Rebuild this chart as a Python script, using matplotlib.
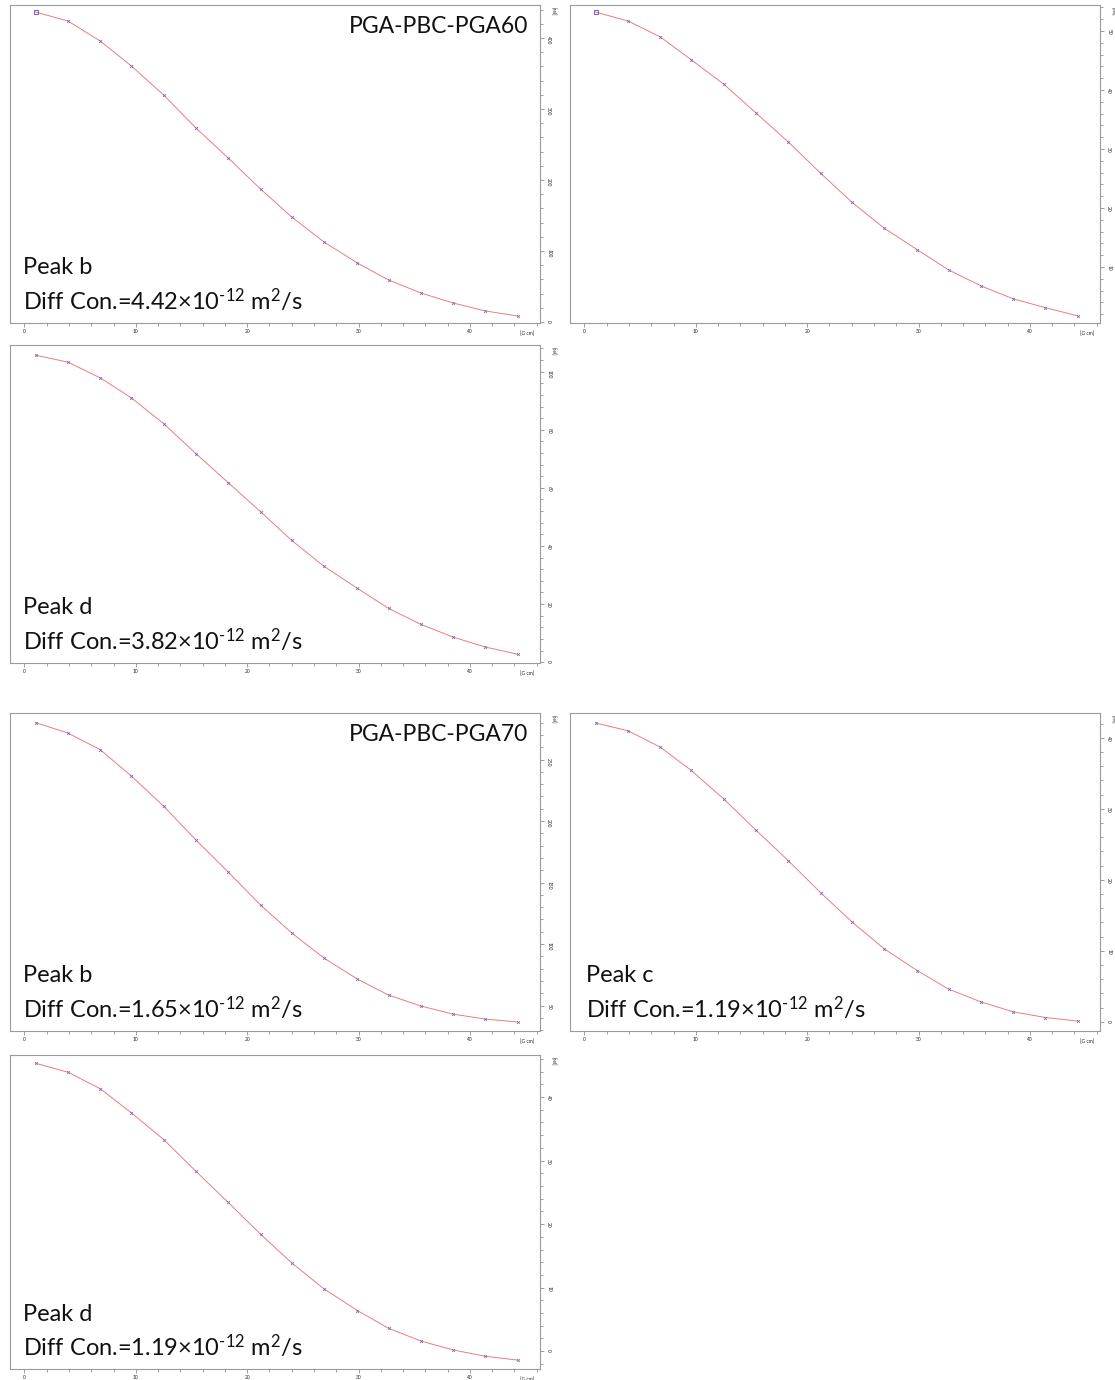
import numpy as np
import matplotlib.pyplot as plt
from matplotlib.ticker import MultipleLocator

plt.rcParams['font.family'] = ['Lato', 'DejaVu Sans']
plt.rcParams['mathtext.fontset'] = 'custom'
plt.rcParams['mathtext.rm'] = 'Lato'
plt.rcParams['mathtext.it'] = 'Lato:italic'
plt.rcParams['mathtext.bf'] = 'Lato:bold'

# gradient strengths (G/cm)
gradient = [1.0, 3.9, 6.8, 9.6, 12.5, 15.4, 18.3, 21.2, 24.0, 26.9, 29.9, 32.7, 35.6, 38.5, 41.4, 44.3]

# signal decays, PGA-PBC-PGA60
pga60_b = [436.6, 424.0, 395.8, 360.6, 319.7, 273.2, 231.0, 187.3, 147.9, 112.7, 83.1, 59.2, 40.8, 26.8, 15.5, 8.5]
pga60_c = [53.2, 51.7, 49.0, 45.1, 41.0, 36.1, 31.2, 25.9, 21.0, 16.6, 12.9, 9.5, 6.8, 4.6, 3.1, 1.7]
pga60_d = [105.7, 103.3, 97.9, 91.0, 82.1, 71.8, 61.8, 51.8, 41.9, 33.0, 25.4, 18.5, 13.0, 8.6, 5.2, 2.7]

# signal decays, PGA-PBC-PGA70
pga70_b = [280.0, 271.5, 258.0, 236.6, 212.0, 184.6, 158.5, 131.7, 109.0, 88.6, 71.5, 58.5, 49.6, 43.0, 39.0, 36.6]
pga70_c = [42.1, 41.0, 38.7, 35.4, 31.4, 27.0, 22.7, 18.2, 14.1, 10.3, 7.2, 4.6, 2.8, 1.4, 0.6, 0.1]
pga70_d = [45.3, 43.9, 41.3, 37.5, 33.3, 28.3, 23.4, 18.4, 13.9, 9.8, 6.4, 3.6, 1.6, 0.2, -0.8, -1.4]

peaks = ['b', '', 'd', 'b', 'c', 'd']
diff_con = ['4.42', '', '3.82', '1.65', '1.19', '1.19']
titles = ['PGA-PBC-PGA60', '', '', 'PGA-PBC-PGA70', '', '']
series = [pga60_b, pga60_c, pga60_d, pga70_b, pga70_c, pga70_d]
y_steps = [100, 10, 20, 50, 10, 10]
y_limits = [(-1.4, 446.5), (0.5, 54.4), (-0.3, 109.2), (29.3, 287.8), (-1.3, 43.5), (-2.8, 46.6)]

W, H = 1115, 1380
# panel boxes in pixels: left, top, right, bottom
boxes = [(10, 5, 540, 323), (570, 5, 1100, 323), (10, 345, 540, 663),
         (10, 713, 540, 1031), (570, 713, 1100, 1031), (10, 1055, 540, 1369)]

fig = plt.figure(figsize=(W / 100, H / 100), dpi=100)

for i in range(6):
    l, t, r, b = boxes[i]
    ax = fig.add_axes([l / W, 1 - b / H, (r - l) / W, (b - t) / H])
    vals = series[i]
    ax.plot(gradient, vals, '-', color='#ec7a84', lw=0.7)
    ax.plot(gradient[1:], vals[1:], 'x', color='#7a6fc9', ms=2.0, mew=0.6)
    if i < 2:
        ax.plot(gradient[0], vals[0], 's', color='#6f6ad0', mfc='none', ms=3.5, mew=0.8)
    else:
        ax.plot(gradient[0], vals[0], 'x', color='#7a6fc9', ms=2.0, mew=0.6)

    ax.set_xlim(-1.3, 46.3)
    ax.set_ylim(*y_limits[i])
    ax.xaxis.set_major_locator(MultipleLocator(10))
    ax.xaxis.set_minor_locator(MultipleLocator(2))
    ax.yaxis.set_major_locator(MultipleLocator(y_steps[i]))
    ax.yaxis.set_minor_locator(MultipleLocator(y_steps[i] / 5))
    ax.yaxis.tick_right()
    for s in ax.spines.values():
        s.set_color('#9a9a9a')
        s.set_linewidth(0.8)
    ax.tick_params(which='both', direction='out', colors='#777777', width=0.5,
                   labelsize=3.5, labelcolor='#222222')
    ax.tick_params(which='major', length=3)
    ax.tick_params(which='minor', length=1.8)
    ax.tick_params(axis='y', labelrotation=-90, pad=1.5)
    ax.tick_params(axis='x', pad=1)
    ax.text(0.975, -0.025, '[G cm]', transform=ax.transAxes, fontsize=3.5,
            ha='center', va='top', color='#222222')
    ax.text(1.025, 0.995, '[rel]', transform=ax.transAxes, fontsize=3.5,
            ha='center', va='top', rotation=-90, color='#222222')

    if titles[i]:
        ax.text(0.977, 0.965, titles[i], transform=ax.transAxes, fontsize=16.5,
                ha='right', va='top', color='#111111')
    if peaks[i]:
        x0 = 0.030 if i == 4 else 0.0245
        ax.text(x0, 0.173, 'Peak ' + peaks[i], transform=ax.transAxes,
                fontsize=17, ha='left', va='center', color='#111111')
        ax.text(x0, 0.072,
                'Diff Con.=' + diff_con[i] + '\u00d710$^{\\text{-12}}$ m$^{\\text{2}}$/s',
                transform=ax.transAxes, fontsize=17, ha='left', va='center',
                color='#111111')

fig.savefig('out.png', dpi=100, facecolor='white')
